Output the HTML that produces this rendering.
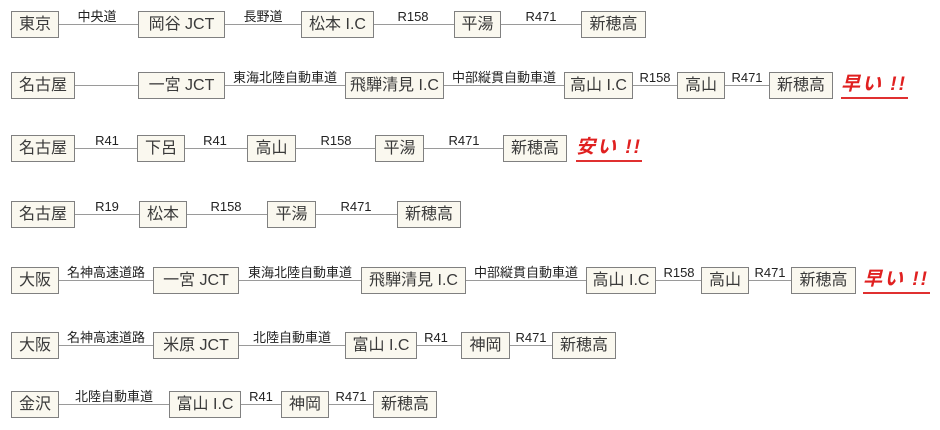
<!DOCTYPE html>
<html><head><meta charset="utf-8"><style>
body{margin:0;width:940px;height:430px;background:#fff;position:relative;overflow:hidden;font-family:"Liberation Sans","Noto Sans CJK JP",sans-serif;color:#333}
.b{position:absolute;height:25px;border:1px solid #808080;background:#faf8ef;font-size:16px;line-height:25px;text-align:center;white-space:nowrap;color:#3a3a3a}
.l{position:absolute;height:0;border-top:1px solid #9a9a9a}
.t{position:absolute;width:160px;margin-left:-80px;text-align:center;font-size:13px;line-height:15px;white-space:nowrap;color:#222}
.r{position:absolute;font-size:19px;font-weight:bold;color:#e02020;font-style:italic;border-bottom:2px solid #e03030;line-height:24px;letter-spacing:2px;white-space:nowrap}
</style></head><body>
<!-- row1 y11 -->
<div class="l" style="left:59px;width:522px;top:24px"></div>
<div class="b" style="left:11px;top:11px;width:46px">東京</div>
<div class="b" style="left:138px;top:11px;width:85px">岡谷 JCT</div>
<div class="b" style="left:301px;top:11px;width:71px">松本 I.C</div>
<div class="b" style="left:454px;top:11px;width:45px">平湯</div>
<div class="b" style="left:581px;top:11px;width:63px">新穂高</div>
<div class="t" style="left:97px;top:9px">中央道</div>
<div class="t" style="left:263px;top:9px">長野道</div>
<div class="t" style="left:413px;top:9px">R158</div>
<div class="t" style="left:541px;top:9px">R471</div>
<!-- row2 y72 -->
<div class="l" style="left:75px;width:694px;top:85px"></div>
<div class="b" style="left:11px;top:72px;width:62px">名古屋</div>
<div class="b" style="left:138px;top:72px;width:85px">一宮 JCT</div>
<div class="b" style="left:345px;top:72px;width:97px">飛騨清見 I.C</div>
<div class="b" style="left:564px;top:72px;width:67px">高山 I.C</div>
<div class="b" style="left:677px;top:72px;width:46px">高山</div>
<div class="b" style="left:769px;top:72px;width:62px">新穂高</div>
<div class="t" style="left:285px;top:70px">東海北陸自動車道</div>
<div class="t" style="left:504px;top:70px">中部縦貫自動車道</div>
<div class="t" style="left:655px;top:70px">R158</div>
<div class="t" style="left:747px;top:70px">R471</div>
<div class="r" style="left:841px;top:73px;width:67px">早い !!</div>
<!-- row3 y135 -->
<div class="l" style="left:75px;width:428px;top:148px"></div>
<div class="b" style="left:11px;top:135px;width:62px">名古屋</div>
<div class="b" style="left:137px;top:135px;width:46px">下呂</div>
<div class="b" style="left:247px;top:135px;width:47px">高山</div>
<div class="b" style="left:375px;top:135px;width:47px">平湯</div>
<div class="b" style="left:503px;top:135px;width:62px">新穂高</div>
<div class="t" style="left:107px;top:133px">R41</div>
<div class="t" style="left:215px;top:133px">R41</div>
<div class="t" style="left:336px;top:133px">R158</div>
<div class="t" style="left:464px;top:133px">R471</div>
<div class="r" style="left:576px;top:136px;width:66px">安い !!</div>
<!-- row4 y201 -->
<div class="l" style="left:75px;width:322px;top:214px"></div>
<div class="b" style="left:11px;top:201px;width:62px">名古屋</div>
<div class="b" style="left:139px;top:201px;width:46px">松本</div>
<div class="b" style="left:267px;top:201px;width:47px">平湯</div>
<div class="b" style="left:397px;top:201px;width:62px">新穂高</div>
<div class="t" style="left:107px;top:199px">R19</div>
<div class="t" style="left:226px;top:199px">R158</div>
<div class="t" style="left:356px;top:199px">R471</div>
<!-- row5 y267 -->
<div class="l" style="left:59px;width:732px;top:280px"></div>
<div class="b" style="left:11px;top:267px;width:46px">大阪</div>
<div class="b" style="left:153px;top:267px;width:84px">一宮 JCT</div>
<div class="b" style="left:361px;top:267px;width:103px">飛騨清見 I.C</div>
<div class="b" style="left:586px;top:267px;width:68px">高山 I.C</div>
<div class="b" style="left:701px;top:267px;width:46px">高山</div>
<div class="b" style="left:791px;top:267px;width:63px">新穂高</div>
<div class="t" style="left:106px;top:265px">名神高速道路</div>
<div class="t" style="left:300px;top:265px">東海北陸自動車道</div>
<div class="t" style="left:526px;top:265px">中部縦貫自動車道</div>
<div class="t" style="left:679px;top:265px">R158</div>
<div class="t" style="left:770px;top:265px">R471</div>
<div class="r" style="left:863px;top:268px;width:67px">早い !!</div>
<!-- row6 y332 -->
<div class="l" style="left:59px;width:493px;top:345px"></div>
<div class="b" style="left:11px;top:332px;width:46px">大阪</div>
<div class="b" style="left:153px;top:332px;width:84px">米原 JCT</div>
<div class="b" style="left:345px;top:332px;width:70px">富山 I.C</div>
<div class="b" style="left:461px;top:332px;width:47px">神岡</div>
<div class="b" style="left:552px;top:332px;width:62px">新穂高</div>
<div class="t" style="left:106px;top:330px">名神高速道路</div>
<div class="t" style="left:292px;top:330px">北陸自動車道</div>
<div class="t" style="left:436px;top:330px">R41</div>
<div class="t" style="left:531px;top:330px">R471</div>
<!-- row7 y391 -->
<div class="l" style="left:59px;width:314px;top:404px"></div>
<div class="b" style="left:11px;top:391px;width:46px">金沢</div>
<div class="b" style="left:169px;top:391px;width:70px">富山 I.C</div>
<div class="b" style="left:281px;top:391px;width:46px">神岡</div>
<div class="b" style="left:373px;top:391px;width:62px">新穂高</div>
<div class="t" style="left:114px;top:389px">北陸自動車道</div>
<div class="t" style="left:261px;top:389px">R41</div>
<div class="t" style="left:351px;top:389px">R471</div>
</body></html>
